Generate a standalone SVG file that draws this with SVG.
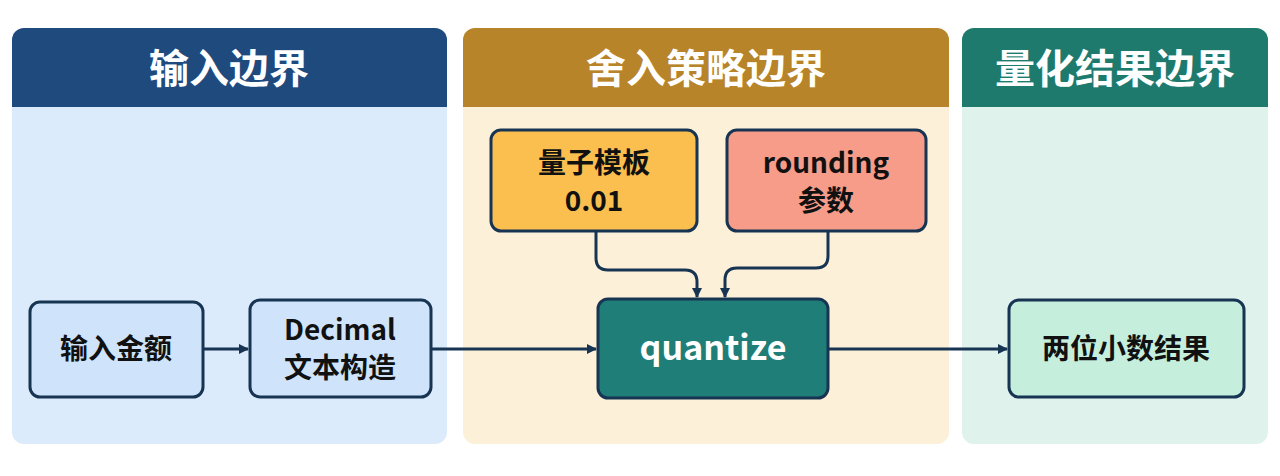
<svg xmlns="http://www.w3.org/2000/svg" width="1280" height="476" viewBox="0 0 1280 476">
<style>
.h{font-family:"Noto Sans CJK SC","Noto Sans",sans-serif;font-weight:700;font-size:40px;fill:#fff;text-anchor:middle}
.t{font-family:"Noto Sans CJK SC","Noto Sans",sans-serif;font-weight:700;font-size:28px;fill:#111;text-anchor:middle}
.n{stroke:#173452;stroke-width:3}
.c{fill:none;stroke:#173452;stroke-width:3}
</style>
<defs><marker id="a" markerWidth="10" markerHeight="10" refX="9" refY="5" orient="auto" markerUnits="userSpaceOnUse"><path d="M0,0L10,5L0,10z" fill="#173452"/></marker></defs>
<rect width="1280" height="476" fill="#fff"/>
<g id="panel1"><rect x="12" y="28" width="435" height="416" rx="12" fill="#dcebfb"/><path d="M12,107V40a12,12 0 0 1 12,-12H435a12,12 0 0 1 12,12V107z" fill="#1f4a7e"/><text class="h" x="229" y="83">输入边界</text></g>
<g id="panel2"><rect x="463" y="28" width="486" height="416" rx="12" fill="#fdf0d8"/><path d="M463,107V40a12,12 0 0 1 12,-12H937a12,12 0 0 1 12,12V107z" fill="#b7842a"/><text class="h" x="706" y="83">舍入策略边界</text></g>
<g id="panel3"><rect x="962" y="28" width="306" height="416" rx="12" fill="#dff3ec"/><path d="M962,107V40a12,12 0 0 1 12,-12H1256a12,12 0 0 1 12,12V107z" fill="#1f7a6e"/><text class="h" x="1115" y="83">量化结果边界</text></g>
<g id="connectors">
<path class="c" d="M203,349H248" marker-end="url(#a)"/>
<path class="c" d="M431,349H596" marker-end="url(#a)"/>
<path class="c" d="M828,349H1007" marker-end="url(#a)"/>
<path class="c" d="M596,231V258q0,12 12,12H685q12,0 12,12V297" marker-end="url(#a)"/>
<path class="c" d="M828,231V256q0,12 -12,12H737q-12,0 -12,12V297" marker-end="url(#a)"/>
</g>
<g id="n1"><rect class="n" x="30" y="302" width="173" height="95" rx="10" fill="#cfe4fa"/><text class="t" x="116" y="359">输入金额</text></g>
<g id="n2"><rect class="n" x="250" y="300" width="181" height="97" rx="10" fill="#cfe4fa"/><text class="t" x="340" y="340">Decimal</text><text class="t" x="340" y="378">文本构造</text></g>
<g id="n3"><rect class="n" x="491" y="130" width="206" height="101" rx="10" fill="#fbbf4f"/><text class="t" x="594" y="173">量子模板</text><text class="t" x="594" y="211">0.01</text></g>
<g id="n4"><rect class="n" x="727" y="130" width="199" height="101" rx="10" fill="#f69c89"/><text class="t" x="826" y="173">rounding</text><text class="t" x="826" y="211">参数</text></g>
<g id="n5"><rect class="n" x="598" y="299" width="230" height="99" rx="10" fill="#1f7f78"/><text class="t" x="713" y="360" style="fill:#fff;font-size:34px">quantize</text></g>
<g id="n6"><rect class="n" x="1009" y="300" width="235" height="97" rx="10" fill="#c5eedc"/><text class="t" x="1126" y="359">两位小数结果</text></g>
</svg>
